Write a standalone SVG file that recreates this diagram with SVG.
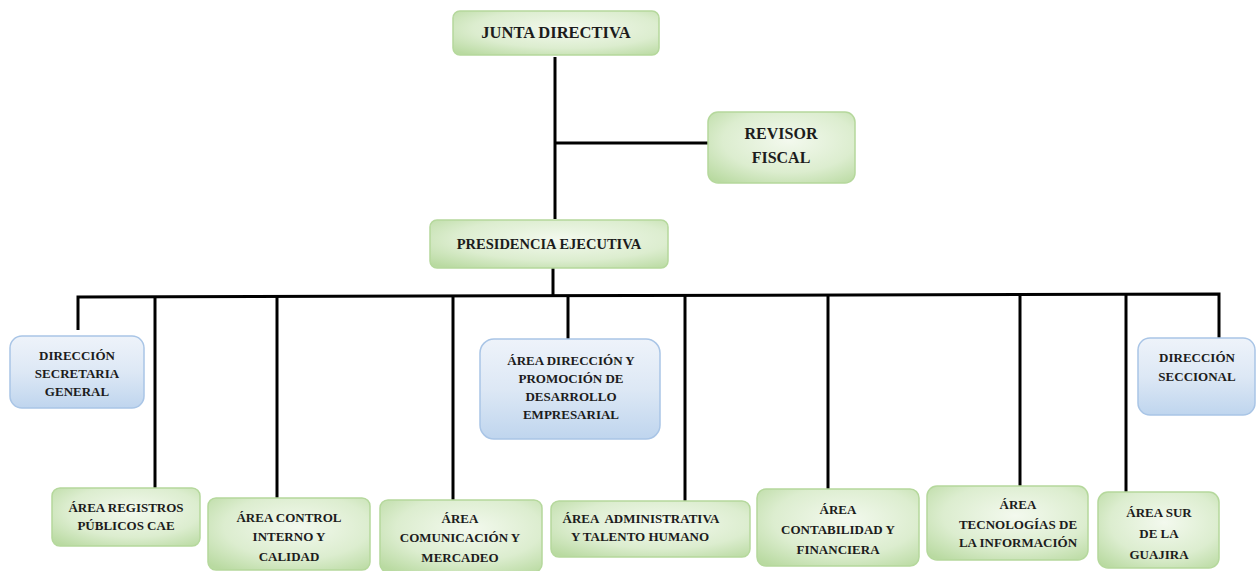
<svg xmlns="http://www.w3.org/2000/svg" width="1257" height="571" viewBox="0 0 1257 571">
<defs>
<radialGradient id="gg" cx="55%" cy="40%" r="75%">
<stop offset="0" stop-color="#f3f9ee"/>
<stop offset="0.6" stop-color="#dcedcf"/>
<stop offset="1" stop-color="#b9daa1"/>
</radialGradient>
<linearGradient id="bg" x1="0" y1="0" x2="0" y2="1">
<stop offset="0" stop-color="#eef3fa"/>
<stop offset="0.5" stop-color="#dde8f5"/>
<stop offset="1" stop-color="#bfd5ee"/>
</linearGradient>
</defs>
<style>
.g{fill:url(#gg);stroke:#b5d89c;stroke-width:1.5}
.b{fill:url(#bg);stroke:#a9c5e6;stroke-width:1.5}
text{font-weight:bold;fill:#1c1c1c;text-anchor:middle;font-size:13px}
.l{font-size:16px}
.c line,.c path{stroke:#000;stroke-width:3;fill:none}
</style>
<rect width="1257" height="571" fill="#fff"/>
<g class="c" id="connectors">
<line x1="555" y1="57" x2="555" y2="219"/>
<line x1="555" y1="143" x2="709" y2="143"/>
<line x1="553" y1="268" x2="553" y2="296"/>
<path d="M78 330 V297 L1219 294 V339"/>
<line x1="155" y1="297" x2="155" y2="488"/>
<line x1="277" y1="296" x2="277" y2="498"/>
<line x1="453" y1="296" x2="453" y2="500"/>
<line x1="568" y1="296" x2="568" y2="339"/>
<line x1="685" y1="295" x2="685" y2="501"/>
<line x1="828" y1="295" x2="828" y2="489"/>
<line x1="1020" y1="294" x2="1020" y2="486"/>
<line x1="1126" y1="294" x2="1126" y2="492"/>
</g>
<g font-family="Liberation Serif, Times New Roman, DejaVu Serif, serif">
<g id="junta"><rect class="g" x="453" y="11" width="206" height="44" rx="7"/><text x="556" y="38" style="font-size:16.5px">JUNTA DIRECTIVA</text></g>
<g id="revisor"><rect class="g" x="708" y="112" width="147" height="71" rx="10"/><text class="l" x="781" y="139">REVISOR</text><text class="l" x="781" y="163">FISCAL</text></g>
<g id="presidencia"><rect class="g" x="430" y="220" width="238" height="48" rx="7"/><text x="549" y="249" style="font-size:14.5px">PRESIDENCIA EJECUTIVA</text></g>
<g id="secretaria"><rect class="b" x="10" y="336" width="134" height="72" rx="12"/><text x="77" y="360">DIRECCIÓN</text><text x="77" y="378">SECRETARIA</text><text x="77" y="396">GENERAL</text></g>
<g id="promocion"><rect class="b" x="480" y="339" width="180" height="100" rx="14"/><text x="571" y="365">ÁREA DIRECCIÓN Y</text><text x="571" y="383">PROMOCIÓN DE</text><text x="571" y="401">DESARROLLO</text><text x="571" y="419">EMPRESARIAL</text></g>
<g id="seccional"><rect class="b" x="1138" y="338" width="117" height="77" rx="12"/><text x="1197" y="362">DIRECCIÓN</text><text x="1197" y="381">SECCIONAL</text></g>
<g id="registros"><rect class="g" x="52" y="488" width="148" height="58" rx="8"/><text x="126" y="512">ÁREA REGISTROS</text><text x="126" y="530">PÚBLICOS CAE</text></g>
<g id="control"><rect class="g" x="208" y="498" width="162" height="72" rx="8"/><text x="289" y="522">ÁREA CONTROL</text><text x="289" y="541">INTERNO Y</text><text x="289" y="561">CALIDAD</text></g>
<g id="comunicacion"><rect class="g" x="380" y="500" width="162" height="72" rx="8"/><text x="460" y="523">ÁREA</text><text x="460" y="542">COMUNICACIÓN Y</text><text x="460" y="562">MERCADEO</text></g>
<g id="administrativa"><rect class="g" x="551" y="501" width="199" height="56" rx="8"/><text x="641" y="523" xml:space="preserve">ÁREA  ADMINISTRATIVA</text><text x="640" y="541">Y TALENTO HUMANO</text></g>
<g id="contabilidad"><rect class="g" x="757" y="489" width="162" height="77" rx="9"/><text x="838" y="514">ÁREA</text><text x="838" y="534">CONTABILIDAD Y</text><text x="838" y="554">FINANCIERA</text></g>
<g id="tecnologias"><rect class="g" x="927" y="486" width="161" height="74" rx="10"/><text x="1018" y="509">ÁREA</text><text x="1018" y="529">TECNOLOGÍAS DE</text><text x="1018" y="547">LA INFORMACIÓN</text></g>
<g id="sur"><rect class="g" x="1098" y="492" width="121" height="76" rx="10"/><text x="1159" y="517">ÁREA SUR</text><text x="1159" y="538">DE LA</text><text x="1159" y="559">GUAJIRA</text></g>
</g>
</svg>
